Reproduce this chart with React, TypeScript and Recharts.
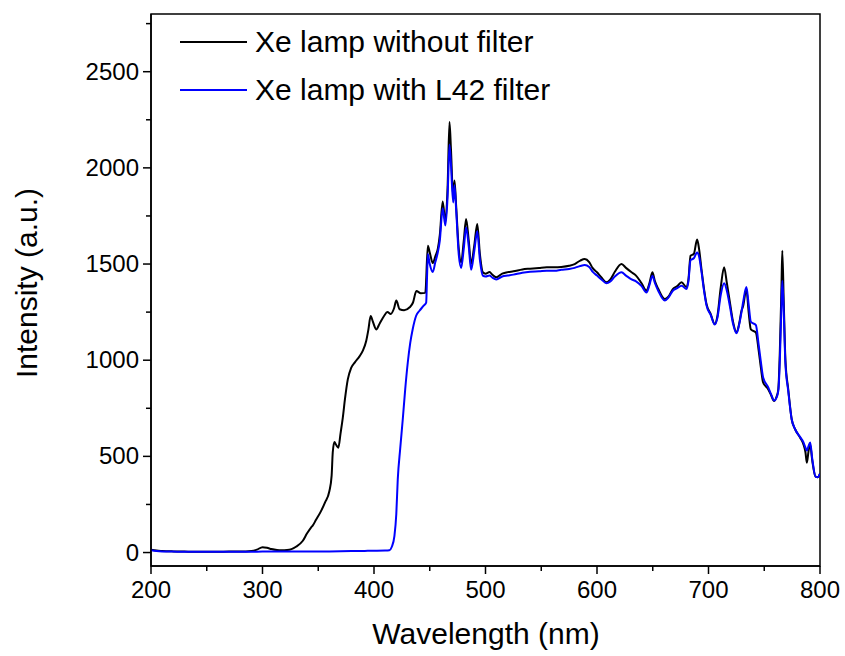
import React from 'react';
import { LineChart, Line, XAxis, YAxis, Legend, Label, ReferenceArea } from 'recharts';

const noFilterWavelength = [200, 205, 210, 220, 230, 240, 250, 260, 270, 280, 290, 295, 300, 304, 308, 313, 317, 322, 326, 330, 336, 340, 343.5, 345, 348, 352, 356, 360, 362, 363, 364.5, 366, 368, 370, 372, 374, 376.5, 379.5, 383, 387, 390, 393, 395, 397, 399, 402, 405, 409, 412, 415, 418, 420, 423, 427, 432, 435, 438, 442, 446, 448.3, 450, 452.7, 455, 457.2, 459, 461.6, 464, 466, 467.7, 469, 471, 472.2, 473.7, 476, 478.2, 480.5, 482.6, 485, 487.1, 490, 492.6, 495, 497.6, 500, 503.7, 506, 509.7, 515, 520, 525, 533, 540, 548, 555, 562, 568, 575, 580, 585, 589, 593, 596, 600, 604, 608.5, 612, 616, 622, 626, 631, 635, 640, 644.4, 647, 649.7, 652, 655, 660.8, 664, 668, 672, 675.8, 680.3, 682, 683.9, 686.8, 689.8, 691.5, 693.7, 696, 698.2, 702, 705.6, 708, 711, 714, 716.5, 719.2, 722, 725.2, 727.5, 729.6, 731, 734, 736, 738, 742.5, 745, 747, 749, 753.5, 756, 758.9, 761, 762.6, 764, 765.5, 766.2, 767.5, 769, 771.5, 774.6, 777.7, 782.2, 785, 787, 788.2, 789.8, 791.2, 793, 796, 798, 800];
const noFilterIntensity = [15, 10, 8, 6, 5, 4, 4, 4, 5, 5, 8, 15, 28, 25, 18, 13, 12, 13, 18, 30, 60, 100, 130, 140, 170, 210, 260, 320, 400, 520, 575, 560, 545, 620, 700, 800, 900, 960, 990, 1020, 1050, 1100, 1160, 1230, 1200, 1160, 1190, 1230, 1250, 1240, 1270, 1310, 1265, 1260, 1275, 1300, 1360, 1348, 1350, 1595, 1560, 1505, 1540, 1578, 1650, 1825, 1720, 1900, 2238, 2100, 1850, 1934, 1800, 1580, 1509, 1620, 1734, 1620, 1500, 1600, 1708, 1550, 1457, 1450, 1458, 1445, 1431, 1450, 1458, 1462, 1472, 1476, 1480, 1483, 1483, 1485, 1491, 1500, 1518, 1526, 1510, 1480, 1457, 1430, 1405, 1420, 1460, 1500, 1480, 1457, 1440, 1400, 1361, 1400, 1457, 1410, 1370, 1318, 1330, 1370, 1385, 1405, 1379, 1420, 1543, 1552, 1627, 1580, 1474, 1370, 1292, 1240, 1188, 1230, 1380, 1483, 1400, 1300, 1200, 1144, 1190, 1257, 1280, 1370, 1250, 1160, 1144, 1050, 960, 884, 849, 820, 788, 810, 849, 1050, 1400, 1569, 1300, 1000, 850, 693, 641, 597, 565, 520, 467, 530, 560, 480, 395, 392, 410];

const l42Wavelength = [200, 205, 210, 220, 230, 250, 270, 290, 300, 320, 340, 360, 380, 400, 410, 413.8, 416, 418.3, 420, 421.3, 423.5, 425.8, 428, 430.3, 432.5, 434.7, 437.8, 440.8, 444, 446.8, 447.5, 448.3, 450, 452.7, 455, 457.2, 459, 461.6, 464, 466, 467.7, 469, 471, 472.2, 473.7, 476, 478.2, 480.5, 482.6, 485, 487.1, 490, 492.6, 495, 497.6, 500, 503.7, 506, 509.7, 515, 520, 525, 533, 540, 548, 555, 562, 568, 575, 580, 585, 589, 593, 596, 600, 604, 608.5, 612, 616, 622, 626, 631, 635, 640, 644.4, 647, 649.7, 652, 655, 660.8, 664, 668, 672, 675.8, 680.3, 682, 683.9, 686.8, 689.8, 691.5, 693.7, 696, 698.2, 702, 705.6, 708, 711, 714, 716.5, 719.2, 722, 725.2, 727.5, 729.6, 731, 734, 736, 738, 742.5, 745, 747, 749, 753.5, 756, 758.9, 761, 762.6, 764, 765.5, 766.2, 767.5, 769, 771.5, 774.6, 777.7, 782.2, 785, 787, 788.2, 789.8, 791.2, 793, 796, 798, 800];
const l42Intensity = [12, 8, 6, 5, 4, 4, 4, 4, 5, 5, 5, 6, 8, 9, 10, 12, 30, 85, 200, 380, 540, 693, 850, 988, 1090, 1161, 1231, 1257, 1280, 1300, 1420, 1552, 1500, 1458, 1510, 1560, 1620, 1790, 1700, 1850, 2120, 2020, 1820, 1910, 1780, 1550, 1480, 1580, 1690, 1590, 1470, 1570, 1670, 1520, 1440, 1435, 1440, 1430, 1420, 1435, 1440, 1445, 1455, 1460, 1462, 1465, 1465, 1470, 1474, 1480, 1490, 1495, 1485, 1460, 1440, 1420, 1400, 1410, 1435, 1457, 1440, 1420, 1410, 1385, 1352, 1390, 1439, 1400, 1360, 1310, 1325, 1361, 1375, 1387, 1370, 1410, 1520, 1530, 1560, 1540, 1460, 1360, 1285, 1235, 1185, 1220, 1340, 1400, 1360, 1280, 1190, 1140, 1185, 1250, 1300, 1380, 1290, 1200, 1182, 1080, 990, 910, 860, 825, 790, 805, 840, 1000, 1300, 1413, 1250, 980, 840, 693, 641, 600, 575, 545, 530, 555, 572, 490, 395, 392, 410];

const xTicks = [200, 250, 300, 350, 400, 450, 500, 550, 600, 650, 700, 750, 800];
const yTicks = [0, 250, 500, 750, 1000, 1250, 1500, 1750, 2000, 2250, 2500, 2750];
const xDomain = [200, 800];
const yDomain = [-70, 2800];
const seriesNames = ['Xe lamp without filter', 'Xe lamp with L42 filter'];
const seriesColors = ['#000000', '#0000ff'];

const noFilterData = noFilterWavelength.map((w, i) => ({ w, v: noFilterIntensity[i] }));
const l42Data = l42Wavelength.map((w, i) => ({ w, v: l42Intensity[i] }));

const FONT = '"Liberation Sans", Arial, sans-serif';

const XTick = (props: any) => {
  const { x, y, payload } = props;
  const major = payload.value % 100 === 0;
  return (
    <g>
      <line x1={x} x2={x} y1={y} y2={y + (major ? 8 : 5)} stroke="#000" strokeWidth={1.5} />
      {major && (
        <text x={x} y={y + 32} textAnchor="middle" fontSize={24} fontFamily={FONT} fill="#000">
          {payload.value}
        </text>
      )}
    </g>
  );
};

const YTick = (props: any) => {
  const { x, y, payload } = props;
  const major = payload.value % 500 === 0;
  return (
    <g>
      <line x1={x} x2={x - (major ? 8 : 5)} y1={y} y2={y} stroke="#000" strokeWidth={1.5} />
      {major && (
        <text x={x - 12} y={y + 8} textAnchor="end" fontSize={24} fontFamily={FONT} fill="#000">
          {payload.value}
        </text>
      )}
    </g>
  );
};

const LegendContent = () => (
  <div style={{ fontFamily: FONT, fontSize: 30, color: '#000' }}>
    {seriesNames.map((n, i) => (
      <div key={n} style={{ display: 'flex', alignItems: 'center', height: 48 }}>
        <div style={{ width: 67, height: 2, background: seriesColors[i], marginRight: 8 }} />
        <span style={{ whiteSpace: 'nowrap' }}>{n}</span>
      </div>
    ))}
  </div>
);

export default function App() {
  return (
    <div style={{ position: 'absolute', left: 0, top: 0, background: '#fff' }}>
      <LineChart width={845} height={656} margin={{ top: 14, right: 25, left: 0, bottom: 0 }}>
        <XAxis
          dataKey="w"
          type="number"
          domain={xDomain}
          ticks={xTicks}
          interval={0}
          allowDataOverflow
          height={90}
          tickSize={0}
          tickMargin={0}
          tickLine={false}
          tick={<XTick />}
          axisLine={{ stroke: '#000', strokeWidth: 1.5 }}
        >
          <Label
            content={() => (
              <text x={486} y={644} textAnchor="middle" fontSize={30} fontFamily={FONT} fill="#000">
                Wavelength (nm)
              </text>
            )}
          />
        </XAxis>
        <YAxis
          type="number"
          domain={yDomain}
          ticks={yTicks}
          interval={0}
          allowDataOverflow
          width={151}
          tickSize={0}
          tickMargin={0}
          tickLine={false}
          tick={<YTick />}
          axisLine={{ stroke: '#000', strokeWidth: 1.5 }}
        >
          <Label
            content={() => (
              <text transform="translate(37,283) rotate(-90)" textAnchor="middle" fontSize={30} fontFamily={FONT} fill="#000">
                Intensity (a.u.)
              </text>
            )}
          />
        </YAxis>
        <ReferenceArea x1={xDomain[0]} x2={xDomain[1]} y1={yDomain[0]} y2={yDomain[1]} fill="none" stroke="#000" strokeWidth={1.5} ifOverflow="visible" />
        <Legend
          layout="vertical"
          align="center"
          verticalAlign="middle"
          content={<LegendContent />}
          wrapperStyle={{ position: 'absolute', left: 180, top: 18, width: 450 }}
        />
        <Line data={noFilterData} dataKey="v" name={seriesNames[0]} type="monotone" stroke={seriesColors[0]} strokeWidth={2} dot={false} isAnimationActive={false} />
        <Line data={l42Data} dataKey="v" name={seriesNames[1]} type="monotone" stroke={seriesColors[1]} strokeWidth={2} dot={false} isAnimationActive={false} />
      </LineChart>
    </div>
  );
}
